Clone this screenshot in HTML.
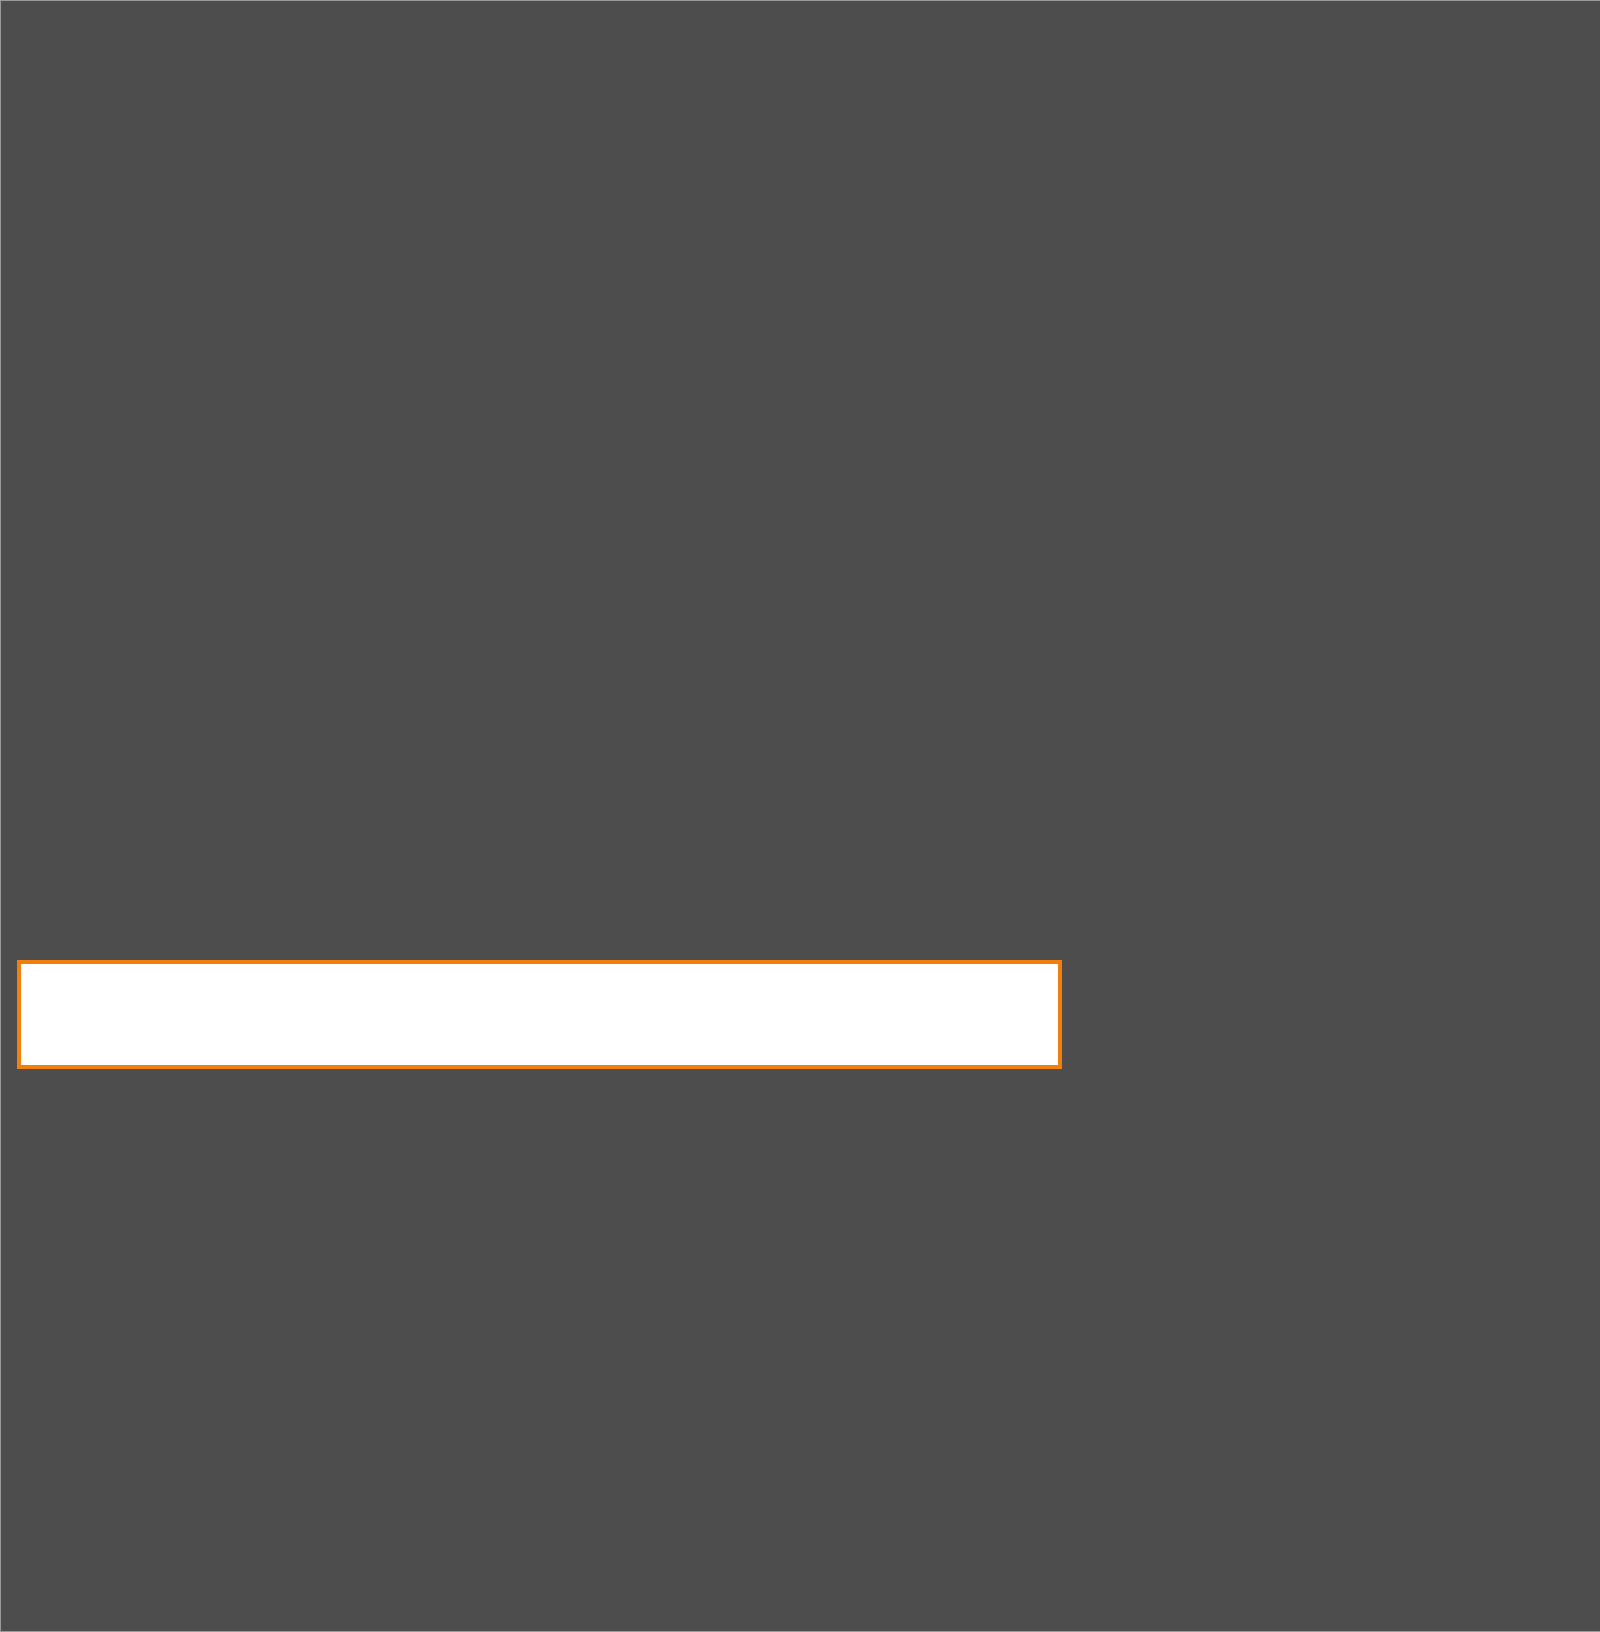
<!DOCTYPE html>
<html><head><style>
html,body{margin:0;padding:0;}
body{width:1600px;height:1632px;background:#4d4d4d;position:relative;overflow:hidden;}
.edge{position:absolute;left:0;top:0;width:1px;height:1632px;background:#9a9a9a;}
.top{position:absolute;left:0;top:0;width:1600px;height:1px;background:#9a9a9a;}
.bot{position:absolute;left:0;bottom:0;width:1600px;height:1px;background:#9a9a9a;}
.box{position:absolute;left:17px;top:960px;width:1037px;height:101px;background:#fff;border:4px solid #f07f0c;}
</style></head><body>
<div class="edge"></div>
<div class="top"></div>
<div class="bot"></div>
<div class="box"></div>
</body></html>
